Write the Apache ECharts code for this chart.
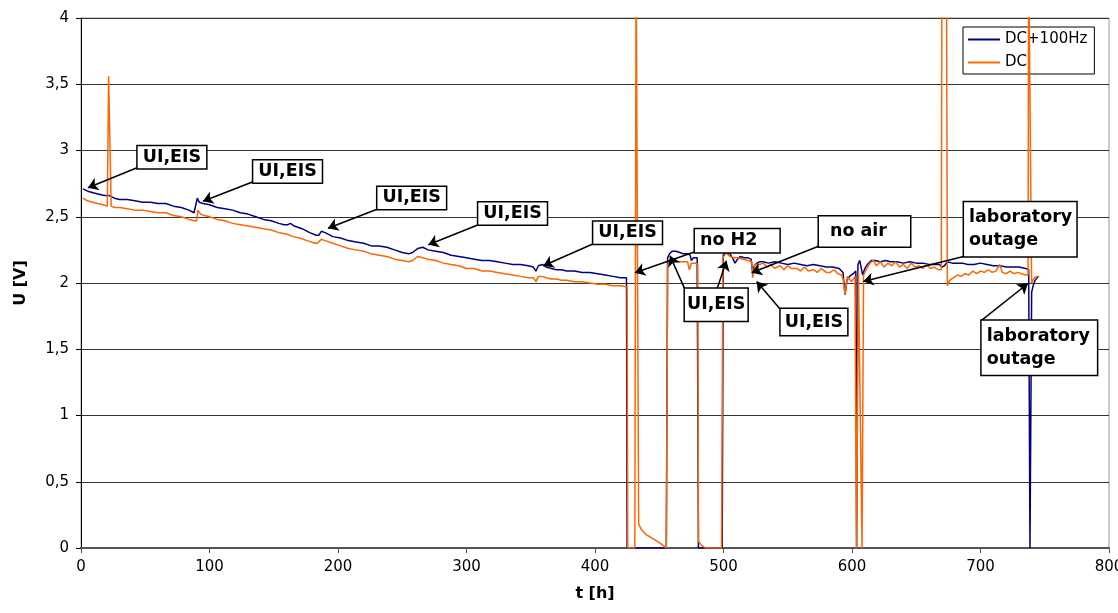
<!DOCTYPE html>
<html>
<head>
<meta charset="utf-8">
<title>U(t)</title>
<script src="https://cdn.jsdelivr.net/npm/echarts@6.0.0/dist/echarts.min.js"></script>
<style>
	html, body { margin: 0; padding: 0; background: #fff; }
	#chart { width: 1118px; height: 613px; }
</style>
</head>
<body>
<div id="chart"></div>
<script>
	// series names (legend)
	var seriesNames = ['DC+100Hz', 'DC'];
	var seriesColors = ['#000080', '#FF6600'];

	// tick labels
	var xTickLabels = ['0', '100', '200', '300', '400', '500', '600', '700', '800'];
	var yTickLabels = ['0', '0,5', '1', '1,5', '2', '2,5', '3', '3,5', '4'];

	// DC+100Hz  [t h, U V]
	var dc100Hz = [
		[1.5, 2.71], [6, 2.69], [10, 2.68], [14, 2.67], [18, 2.66], [22, 2.66], [26, 2.64], [30, 2.63],
		[36, 2.63], [42, 2.62], [48, 2.61], [54, 2.61], [60, 2.60], [66, 2.60], [72, 2.58], [78, 2.57],
		[84, 2.55], [88, 2.53], [89.5, 2.52], [90.5, 2.64], [92, 2.61], [95, 2.60], [100, 2.59], [106, 2.57],
		[112, 2.56], [118, 2.55], [124, 2.53], [130, 2.52], [136, 2.50], [142, 2.48], [148, 2.47], [154, 2.45],
		[158, 2.44], [161, 2.44], [163, 2.45], [166, 2.43], [172, 2.41], [178, 2.38], [183, 2.36], [185, 2.36],
		[187, 2.39], [190, 2.38], [196, 2.35], [202, 2.34], [208, 2.32], [214, 2.31], [220, 2.30], [226, 2.28],
		[232, 2.28], [238, 2.27], [244, 2.25], [250, 2.23], [255, 2.22], [258, 2.23], [262, 2.26], [266, 2.27],
		[270, 2.25], [276, 2.24], [282, 2.23], [288, 2.21], [294, 2.20], [300, 2.19], [306, 2.18], [312, 2.17],
		[318, 2.17], [324, 2.16], [330, 2.15], [336, 2.14], [342, 2.14], [348, 2.13], [352, 2.12], [354, 2.09],
		[356, 2.13], [359, 2.14], [362, 2.12], [366, 2.11], [370, 2.10], [374, 2.10], [378, 2.09], [384, 2.09],
		[390, 2.08], [396, 2.08], [402, 2.07], [408, 2.06], [414, 2.05], [420, 2.04], [424.5, 2.04], [425, 0],
		[455.5, 0], [456.5, 2.19], [458, 2.22], [460, 2.24], [463, 2.24], [466, 2.23], [469, 2.22], [472, 2.22],
		[474, 2.21], [475, 2.17], [476.5, 2.19], [479.5, 2.19], [480.5, 0], [499, 0], [499.8, 2.21], [502, 2.24],
		[505, 2.22], [507, 2.19], [509, 2.15], [511, 2.18], [513, 2.20], [516, 2.19], [519, 2.19], [521.5, 2.18],
		[522.5, 2.09], [524, 2.13], [526, 2.15], [528, 2.16], [531, 2.16], [535, 2.15], [540, 2.16], [545, 2.15],
		[550, 2.14], [555, 2.15], [560, 2.14], [565, 2.13], [570, 2.14], [575, 2.13], [580, 2.12], [585, 2.12],
		[590, 2.11], [593, 2.08], [594.6, 1.91], [596, 2.02], [598, 2.05], [601, 2.07], [603, 2.09], [603.6, 0],
		[604.6, 2.14], [606, 2.17], [607, 2.17], [608.3, 2.06], [610, 2.11], [612, 2.14], [615, 2.17], [618, 2.17],
		[622, 2.16], [626, 2.17], [630, 2.16], [635, 2.16], [640, 2.15], [645, 2.16], [650, 2.15], [655, 2.15],
		[660, 2.14], [665, 2.14], [668, 2.14], [670, 2.12], [672, 2.13], [674, 2.16], [678, 2.15], [682, 2.15],
		[686, 2.15], [690, 2.14], [695, 2.14], [700, 2.15], [705, 2.14], [710, 2.13], [715, 2.13], [720, 2.12],
		[725, 2.12], [730, 2.12], [735, 2.11], [737.5, 2.10], [738.5, 0], [739.8, 1.93], [741, 1.98], [742.5, 2.02],
		[745, 2.05]
	];

	// DC  [t h, U V]
	var dc = [
		[1.5, 2.64], [5, 2.62], [9, 2.61], [13, 2.60], [17, 2.59], [20.5, 2.58], [21.5, 3.56], [23, 3.56],
		[23.5, 2.58], [26, 2.57], [30, 2.57], [36, 2.56], [42, 2.55], [48, 2.55], [54, 2.54], [60, 2.53],
		[66, 2.53], [72, 2.51], [78, 2.50], [84, 2.48], [88, 2.47], [90, 2.47], [91, 2.55], [93, 2.52],
		[96, 2.51], [100, 2.50], [106, 2.48], [112, 2.47], [118, 2.45], [124, 2.44], [130, 2.43], [136, 2.42],
		[142, 2.41], [148, 2.40], [154, 2.38], [160, 2.37], [165, 2.35], [170, 2.34], [176, 2.32], [182, 2.30],
		[184, 2.30], [187, 2.33], [190, 2.32], [196, 2.30], [202, 2.28], [208, 2.26], [214, 2.25], [220, 2.24],
		[226, 2.22], [232, 2.21], [238, 2.20], [244, 2.18], [250, 2.17], [255, 2.16], [258, 2.17], [262, 2.20],
		[266, 2.19], [270, 2.18], [276, 2.17], [282, 2.15], [288, 2.14], [294, 2.13], [300, 2.11], [306, 2.11],
		[312, 2.09], [318, 2.09], [324, 2.08], [330, 2.07], [336, 2.06], [342, 2.05], [348, 2.04], [352, 2.04],
		[354, 2.01], [356, 2.05], [359, 2.05], [362, 2.04], [366, 2.03], [370, 2.03], [374, 2.02], [378, 2.02],
		[384, 2.01], [390, 2.01], [396, 2.00], [402, 1.99], [408, 1.99], [414, 1.98], [420, 1.98], [425, 1.97],
		[425.5, 0], [431, 0], [432, 4.5], [433, 4.5], [434, 0.18], [436, 0.14], [440, 0.10], [445, 0.07],
		[450, 0.04], [453, 0.02], [455.5, 0], [456.5, 2.14], [458, 2.15], [461, 2.17], [464, 2.16], [468, 2.16],
		[472, 2.16], [473.5, 2.10], [475, 2.15], [478, 2.15], [480, 2.14], [480.5, 0.05], [483, 0.02], [486, 0],
		[498.5, 0], [499.5, 2.19], [502, 2.23], [505, 2.20], [508, 2.19], [511, 2.19], [515, 2.18], [519, 2.17],
		[522, 2.16], [522.7, 2.04], [524.5, 2.14], [528, 2.14], [531, 2.15], [534, 2.12], [537, 2.14], [540, 2.11],
		[544, 2.13], [547, 2.10], [550, 2.13], [553, 2.11], [557, 2.11], [560, 2.09], [563, 2.12], [566, 2.09],
		[570, 2.10], [573, 2.08], [576, 2.11], [580, 2.08], [583, 2.08], [586, 2.10], [589, 2.07], [592, 2.06],
		[593.3, 2.02], [594.6, 1.91], [596.4, 2.05], [598, 2.03], [599.7, 2.01], [602.3, 2.05], [603.5, 0], [604.5, 0],
		[605, 2.09], [606.5, 2.08], [607.8, 0], [608.5, 0], [609, 2.06], [611, 2.10], [614, 2.15], [616.6, 2.17],
		[619, 2.13], [622, 2.16], [625, 2.12], [628, 2.15], [631, 2.13], [634, 2.16], [637, 2.12], [640, 2.14],
		[643, 2.11], [646, 2.15], [649, 2.12], [652, 2.13], [655, 2.11], [658, 2.14], [661, 2.11], [664, 2.12],
		[667, 2.10], [669.5, 2.10], [670, 4.5], [673.5, 4.5], [674.2, 1.98], [676, 2.02], [679, 2.04], [682, 2.06],
		[685, 2.05], [688, 2.07], [691, 2.06], [694, 2.09], [697, 2.07], [700, 2.09], [703, 2.08], [706, 2.10],
		[709, 2.08], [712, 2.09], [715, 2.14], [717, 2.08], [720, 2.07], [723, 2.09], [726, 2.07], [729, 2.08],
		[732, 2.07], [735, 2.06], [737, 2.06], [737.5, 4.5], [738.8, 4.5], [739.8, 2.00], [742, 2.04], [744, 2.05],
		[745.8, 2.05]
	];

	// boxed notes: at = left edge / middle of the box, arrows = [from, to] in data coords
	var notes = [
		{ text: 'UI,EIS', at: [44.1, 2.949], pad: [1, 5, 1, 5], arrows: [[[43.6, 2.870], [5.4, 2.719]]] },
		{ text: 'UI,EIS', at: [134.1, 2.842], pad: [1, 5, 1, 5], arrows: [[[133.9, 2.764], [94.9, 2.617]]] },
		{ text: 'UI,EIS', at: [230.7, 2.642], pad: [1, 5, 1, 5], arrows: [[[230.4, 2.557], [192.2, 2.413]]] },
		{ text: 'UI,EIS', at: [309.2, 2.525], pad: [1, 5, 1, 5], arrows: [[[309.2, 2.440], [270.3, 2.289]]] },
		{ text: 'UI,EIS', at: [398.7, 2.379], pad: [1, 5, 1, 5], arrows: [[[398.7, 2.296], [359.8, 2.130]]] },
		{ text: 'no H2', at: [477.8, 2.319], pad: [1, 22, 2, 5], arrows: [[[477.8, 2.236], [431.1, 2.077]]] },
		{ text: 'UI,EIS', at: [470.0, 1.835], pad: [7, 2, 5, 2], arrows: [[[470.0, 1.952], [458.4, 2.205]], [[494.9, 1.952], [502.3, 2.168]]] },
		{ text: 'no air', at: [574.3, 2.389], pad: [4, 23, 6, 11], arrows: [[[573.9, 2.277], [521.9, 2.077]]] },
		{ text: 'UI,EIS', at: [544.5, 1.706], pad: [3, 4, 3, 4], arrows: [[[544.5, 1.798], [525.8, 2.011]]] },
		{ text: 'laboratory\noutage', at: [687.2, 2.406], pad: [4, 4, 4, 5], arrows: [[[687.5, 2.202], [608.8, 2.011]]] },
		{ text: 'laboratory\noutage', at: [700.9, 1.512], pad: [4, 7, 4, 5], arrows: [[[700.8, 1.718], [736.9, 1.996]]] }
	];

	var arrowLines = [];
	notes.forEach(function(n) {
		n.arrows.forEach(function(a) {
			arrowLines.push({ coords: a });
		});
	});

	var font = 'DejaVu Sans';

	var option = {
		animation: false,
		backgroundColor: '#fff',
		grid: {
			left: 81,
			right: 9,
			top: 18,
			bottom: 65,
			// v6: keep the grid where it is, let the "800" label run off the edge
			outerBoundsMode: 'none',
			show: true,
			borderColor: '#999',
			borderWidth: 1
		},
		legend: {
			data: seriesNames,
			orient: 'vertical',
			left: 963,
			top: 27,
			padding: [5, 7, 4, 5],
			itemGap: 8,
			itemWidth: 32,
			itemHeight: 2,
			icon: 'rect',
			borderColor: '#000',
			borderWidth: 1,
			textStyle: { fontFamily: font, fontSize: 15, color: '#000' }
		},
		xAxis: {
			type: 'value',
			min: 0,
			max: 800,
			interval: 100,
			name: 't [h]',
			nameLocation: 'middle',
			nameGap: 38,
			nameTextStyle: { fontFamily: font, fontWeight: 'bold', fontSize: 16, color: '#000' },
			axisLine: { show: true, lineStyle: { color: '#555', width: 2 } },
			axisTick: { show: true, length: 5, lineStyle: { color: '#555' } },
			axisLabel: {
				margin: 12,
				fontFamily: font,
				fontSize: 15,
				color: '#000',
				formatter: function(v) { return xTickLabels[Math.round(v / 100)]; }
			},
			splitLine: { show: false }
		},
		yAxis: {
			type: 'value',
			min: 0,
			max: 4,
			interval: 0.5,
			name: 'U [V]',
			nameLocation: 'middle',
			nameGap: 52,
			nameTextStyle: { fontFamily: font, fontWeight: 'bold', fontSize: 16, color: '#000' },
			axisLine: { show: true, lineStyle: { color: '#000', width: 1 } },
			axisTick: { show: true, length: 5, lineStyle: { color: '#000' } },
			axisLabel: {
				margin: 12,
				fontFamily: font,
				fontSize: 15,
				color: '#000',
				formatter: function(v) { return yTickLabels[Math.round(v / 0.5)]; }
			},
			splitLine: { show: true, lineStyle: { color: '#333', width: 1 } }
		},
		series: [
			{
				name: seriesNames[0],
				type: 'line',
				data: dc100Hz,
				symbol: 'none',
				z: 3,
				itemStyle: { color: seriesColors[0] },
				lineStyle: { color: seriesColors[0], width: 1.5 }
			},
			{
				name: seriesNames[1],
				type: 'line',
				data: dc,
				symbol: 'none',
				z: 4,
				itemStyle: { color: seriesColors[1] },
				lineStyle: { color: seriesColors[1], width: 1.5 }
			},
			{
				// arrows of the notes
				type: 'lines',
				coordinateSystem: 'cartesian2d',
				data: arrowLines,
				symbol: ['none', 'arrow'],
				symbolSize: 10,
				silent: true,
				z: 15,
				lineStyle: { color: '#000', width: 1.5, opacity: 1, curveness: 0 }
			},
			{
				// boxes of the notes
				type: 'scatter',
				silent: true,
				z: 20,
				symbolSize: 1,
				itemStyle: { color: 'transparent', opacity: 1 },
				data: notes.map(function(n) {
					return {
						value: n.at,
						label: {
							show: true,
							position: 'inside',
							align: 'left',
							verticalAlign: 'middle',
							formatter: n.text,
							padding: n.pad,
							backgroundColor: '#fff',
							borderColor: '#000',
							borderWidth: 1.5,
							fontFamily: font,
							fontWeight: 'bold',
							fontSize: 17.5,
							lineHeight: n.text.indexOf('\n') > -1 ? 23 : 20,
							color: '#000',
							textBorderWidth: 0
						}
					};
				})
			}
		]
	};

	var chart = echarts.init(document.getElementById('chart'));
	chart.setOption(option);
</script>
</body>
</html>
